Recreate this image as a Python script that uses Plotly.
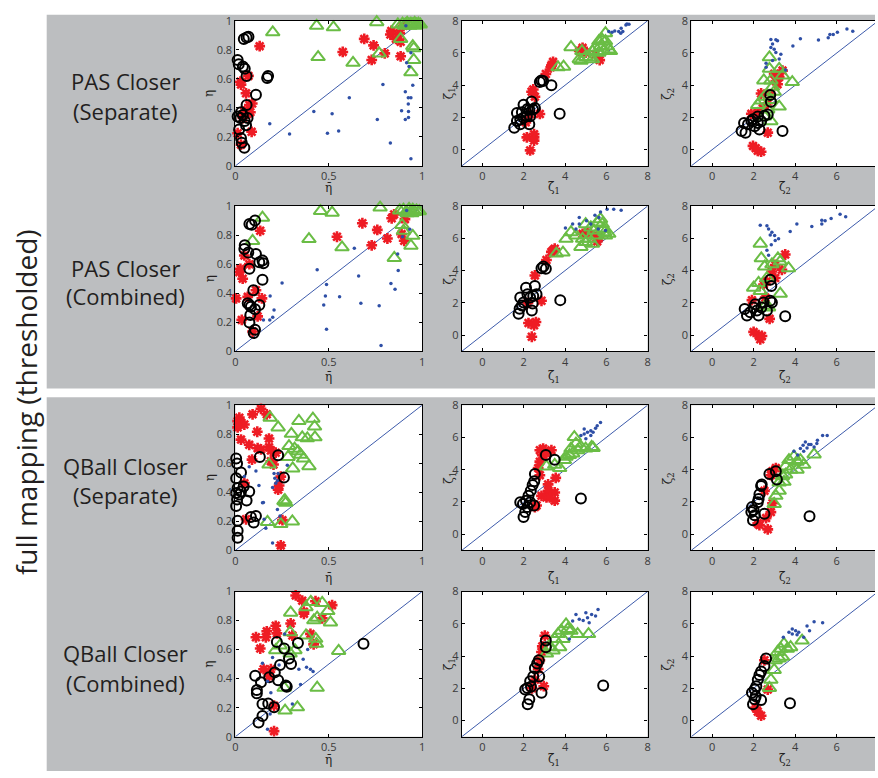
import plotly.graph_objects as go

FIG_W, FIG_H = 878, 778

# ---------------- axis definitions ----------------
ETA_RANGE = [0, 1]
ZETA_RANGE = [-1, 8]
ZETA_RANGE_EDGE = [-1, 7.84]          # right-hand column runs off the page edge
ETA_YTICKS = [0, 0.2, 0.4, 0.6, 0.8, 1]
ETA_YTICK_TEXT = ["0", "0.2", "0.4", "0.6", "0.8", "1"]
ETA_XTICKS = [0, 0.5, 1]
ETA_XTICK_TEXT = ["0", "0.5", "1"]
ZETA_TICKS = [0, 2, 4, 6, 8]

ROW_TITLES = [("PAS Closer", "(Separate)"), ("PAS Closer", "(Combined)"),
              ("QBall Closer", "(Separate)"), ("QBall Closer", "(Combined)")]
SIDE_TITLE = "full mapping (thresholded)"
X_TITLES = ["η\u0304", "ζ\u0304<sub>1</sub>", "ζ\u0304<sub>2</sub>"]
Y_TITLES = ["η", "ζ<sub>1</sub>", "ζ<sub>2</sub>"]

# ---------------- data: (x, y) pairs ----------------
# Row 1: PAS closer (separate)
PAS_SEP_ETA_BLUE = [(0.184, 0.29), (0.29, 0.22), (0.42, 0.375), (0.518, 0.36), (0.493, 0.225), (0.553, 0.24),
                    (0.61, 0.47), (0.79, 0.56), (0.76, 0.32), (0.83, 0.157), (0.89, 0.38), (0.91, 0.51),
                    (0.926, 0.47), (0.94, 0.47), (0.95, 0.555), (0.926, 0.427), (0.927, 0.375), (0.927, 0.333),
                    (0.91, 0.32), (0.94, 0.05), (0.94, 0.78), (0.917, 0.71), (0.93, 0.685), (0.913, 0.966)]
PAS_SEP_ETA_RED = [(0.13, 0.825), (0.03, 0.56), (0.057, 0.50), (0.075, 0.42), (0.09, 0.43), (0.08, 0.37),
                   (0.048, 0.375), (0.012, 0.225), (0.087, 0.235), (0.03, 0.146), (0.07, 0.62), (0.027, 0.58),
                   (0.04, 0.33), (0.065, 0.36), (0.835, 0.93), (0.83, 0.905), (0.88, 0.915), (0.885, 0.855),
                   (0.69, 0.875), (0.74, 0.83), (0.575, 0.785), (0.73, 0.73), (0.80, 0.775), (0.885, 0.755),
                   (0.90, 0.965), (0.86, 0.875)]
PAS_SEP_ETA_BLACK = [(0.07, 0.89), (0.045, 0.875), (0.06, 0.885), (0.012, 0.73), (0.018, 0.70), (0.04, 0.685),
                     (0.05, 0.67), (0.06, 0.62), (0.175, 0.62), (0.17, 0.605), (0.11, 0.49), (0.06, 0.42),
                     (0.012, 0.34), (0.027, 0.33), (0.04, 0.35), (0.05, 0.31), (0.065, 0.33), (0.02, 0.25),
                     (0.03, 0.19), (0.034, 0.16), (0.048, 0.125), (0.03, 0.37), (0.057, 0.28)]
PAS_SEP_ETA_GREEN = [(0.2, 0.92), (0.435, 0.965), (0.525, 0.955), (0.757, 0.99), (0.443, 0.75), (0.63, 0.71),
                     (0.77, 0.775), (0.885, 0.875), (0.95, 0.825), (0.955, 0.81), (0.955, 0.73), (0.94, 0.645),
                     (0.87, 0.975), (0.895, 0.98), (0.91, 0.975), (0.92, 0.985), (0.93, 0.975), (0.94, 0.98),
                     (0.95, 0.975), (0.96, 0.985), (0.97, 0.975), (0.98, 0.98), (0.99, 0.975), (0.905, 0.965),
                     (0.935, 0.965), (0.965, 0.965)]

PAS_SEP_Z1_BLUE = [(6.12, 7.33), (6.41, 7.37), (6.6, 7.33), (6.72, 7.53), (6.8, 7.33), (6.95, 7.74),
                   (7.0, 7.8), (7.1, 7.78), (6.7, 7.23), (6.28, 7.29)]
PAS_SEP_Z1_RED = [(2.31, -0.04), (2.15, 0.77), (2.5, 0.77), (2.5, 0.97), (2.5, 0.57), (2.78, 2.22),
                  (2.46, 3.74), (2.38, 3.6), (3.07, 4.7), (3.34, 5.21), (3.42, 5.45), (3.31, 5.11),
                  (4.69, 6.12), (4.85, 6.32), (5.0, 6.02), (5.48, 5.92), (5.68, 5.56), (2.54, 3.29),
                  (2.1, 1.7), (2.3, 2.2)]
PAS_SEP_Z1_BLACK = [(1.54, 1.37), (1.67, 1.78), (1.83, 1.58), (1.67, 2.28), (1.99, 2.79), (2.18, 2.53),
                    (2.27, 2.48), (2.38, 2.99), (2.31, 2.08), (2.27, 1.58), (2.54, 2.59), (2.15, 2.08),
                    (1.99, 1.98), (2.78, 4.2), (2.94, 4.26), (3.34, 4.0), (3.74, 2.24), (1.83, 1.88),
                    (1.91, 2.32), (2.45, 2.5), (2.85, 4.3)]
PAS_SEP_Z1_GREEN = [(4.29, 6.36), (4.82, 6.12), (3.66, 5.11), (3.93, 5.15), (4.77, 5.52), (5.17, 5.72),
                    (5.33, 5.62), (5.48, 6.32), (5.64, 6.73), (5.8, 6.83), (5.96, 7.23), (6.04, 6.42),
                    (6.12, 6.22), (5.88, 6.12), (6.2, 6.12), (5.64, 6.02), (5.0, 5.76), (4.69, 5.62),
                    (5.33, 6.12), (5.96, 6.73), (5.72, 6.42)]

PAS_SEP_Z2_BLUE = [(2.83, 6.84), (3.07, 6.82), (3.15, 6.76), (2.91, 6.56), (2.83, 6.34), (2.99, 6.23),
                   (3.07, 6.03), (3.31, 5.93), (3.23, 5.63), (2.6, 5.36), (2.91, 5.54), (3.54, 4.95),
                   (3.89, 6.44), (4.25, 6.88), (5.12, 6.8), (5.59, 6.94), (5.67, 7.15), (5.83, 7.15),
                   (6.03, 7.29), (6.49, 7.49), (6.77, 7.35), (2.6, 5.12)]
PAS_SEP_Z2_RED = [(1.97, 0.24), (2.2, -0.06), (2.36, -0.12), (2.1, 0.1), (2.68, 1.06), (1.89, 2.23),
                  (2.2, 2.31), (2.44, 2.58), (2.83, 3.41), (3.07, 4.26), (3.23, 4.51), (3.39, 4.91),
                  (2.99, 4.71), (3.15, 4.06), (2.68, 2.88), (2.36, 3.49)]
PAS_SEP_Z2_BLACK = [(1.42, 1.16), (1.61, 1.06), (1.54, 1.66), (1.73, 1.58), (1.89, 1.79), (2.05, 1.46),
                    (2.2, 1.66), (2.2, 2.07), (2.52, 2.11), (2.68, 2.19), (2.83, 2.98), (2.8, 3.39),
                    (3.39, 1.16), (2.28, 1.26), (1.97, 1.89), (2.36, 1.77)]
PAS_SEP_Z2_GREEN = [(2.76, 5.73), (2.76, 5.02), (3.23, 5.02), (3.39, 4.61), (2.49, 4.3), (2.83, 4.3),
                    (3.86, 4.2), (2.91, 3.9), (2.99, 3.59), (2.52, 3.29), (2.83, 3.09), (2.2, 2.78),
                    (2.36, 3.05), (3.23, 2.68), (2.68, 2.5), (2.83, 1.77), (2.52, 2.07)]

# Row 2: PAS closer (combined)
PAS_COMB_ETA_BLUE = [(0.15, 0.216), (0.184, 0.216), (0.2, 0.234), (0.207, 0.284), (0.186, 0.38), (0.25, 0.47),
                     (0.438, 0.561), (0.488, 0.46), (0.482, 0.38), (0.473, 0.318), (0.558, 0.375), (0.488, 0.152),
                     (0.637, 0.709), (0.66, 0.518), (0.672, 0.33), (0.77, 0.314), (0.78, 0.039), (0.833, 0.466),
                     (0.855, 0.427), (0.872, 0.557), (0.869, 0.67), (0.895, 0.789), (0.934, 0.84), (0.917, 0.97)]
PAS_COMB_ETA_RED = [(0.133, 0.83), (0.048, 0.66), (0.021, 0.545), (0.039, 0.5), (0.027, 0.568), (0.004, 0.364),
                    (0.066, 0.375), (0.11, 0.42), (0.142, 0.364), (0.119, 0.24), (0.034, 0.216), (0.092, 0.136),
                    (0.075, 0.6), (0.544, 0.789), (0.68, 0.882), (0.76, 0.836), (0.73, 0.73), (0.814, 0.777),
                    (0.837, 0.916), (0.85, 0.943), (0.908, 0.91), (0.904, 0.761), (0.89, 0.807)]
PAS_COMB_ETA_BLACK = [(0.075, 0.877), (0.087, 0.872), (0.105, 0.9), (0.05, 0.73), (0.048, 0.705), (0.069, 0.68),
                      (0.11, 0.67), (0.128, 0.614), (0.145, 0.625), (0.15, 0.607), (0.075, 0.568), (0.145, 0.493),
                      (0.096, 0.42), (0.066, 0.33), (0.075, 0.318), (0.083, 0.307), (0.128, 0.318), (0.08, 0.25),
                      (0.105, 0.29), (0.075, 0.198), (0.105, 0.148), (0.098, 0.125)]
PAS_COMB_ETA_GREEN = [(0.145, 0.92), (0.092, 0.76), (0.456, 0.966), (0.518, 0.955), (0.775, 0.99), (0.394, 0.773),
                      (0.571, 0.716), (0.851, 0.643), (0.892, 0.87), (0.9, 0.83), (0.95, 0.795), (0.94, 0.727),
                      (0.88, 0.97), (0.9, 0.975), (0.915, 0.96), (0.93, 0.98), (0.94, 0.965), (0.95, 0.975),
                      (0.96, 0.96), (0.97, 0.97), (0.985, 0.965), (0.92, 0.95), (0.945, 0.95)]

PAS_COMB_Z1_BLUE = [(4.02, 6.64), (4.37, 6.89), (4.69, 7.29), (5.04, 7.09), (5.25, 6.89), (5.45, 7.43),
                    (5.72, 7.64), (5.64, 7.29), (6.04, 7.8), (6.36, 7.8), (6.72, 7.74), (4.53, 6.58),
                    (4.69, 6.89), (5.61, 6.58), (5.96, 6.48)]
PAS_COMB_Z1_RED = [(2.39, -0.1), (2.23, 0.75), (2.59, 0.81), (2.5, 0.61), (2.86, 2.13), (2.54, 3.7),
                   (3.1, 4.66), (3.42, 5.26), (3.5, 5.36), (3.34, 5.16), (4.85, 6.28), (5.09, 6.38),
                   (5.41, 6.17), (5.56, 5.81), (5.64, 6.07), (2.2, 2.0)]
PAS_COMB_Z1_BLACK = [(1.75, 1.32), (1.8, 1.63), (1.91, 1.83), (1.83, 2.33), (2.11, 2.94), (2.18, 2.53),
                     (2.31, 2.33), (2.39, 1.52), (2.43, 1.96), (2.54, 3.04), (2.62, 2.53), (2.46, 2.43),
                     (2.86, 4.15), (3.07, 4.11), (3.77, 2.17), (1.99, 2.02), (2.95, 4.25)]
PAS_COMB_Z1_GREEN = [(3.58, 5.06), (3.9, 5.12), (4.05, 5.97), (4.29, 6.38), (4.53, 6.17), (4.77, 5.47),
                     (5.0, 5.77), (5.17, 5.97), (5.33, 5.67), (5.48, 6.17), (5.56, 6.98), (5.72, 7.19),
                     (5.8, 6.89), (5.93, 6.38), (5.96, 6.17), (5.88, 6.58), (6.12, 6.28), (5.41, 6.48),
                     (5.0, 6.88), (5.25, 6.68), (4.85, 5.97)]

PAS_COMB_Z2_BLUE = [(2.32, 6.82), (2.64, 6.78), (2.72, 6.58), (2.88, 6.38), (2.8, 6.21), (3.01, 6.17),
                    (3.04, 5.87), (3.2, 5.97), (2.64, 5.26), (2.72, 4.96), (2.85, 5.6), (3.76, 6.42),
                    (4.08, 6.89), (4.8, 6.74), (5.28, 6.89), (5.44, 7.09), (5.73, 7.23), (6.16, 7.49),
                    (6.43, 7.34), (5.28, 7.13)]
PAS_COMB_Z2_RED = [(2.0, 0.2), (2.24, 0.0), (2.32, -0.26), (2.4, -0.05), (2.77, 1.01), (1.92, 2.17),
                   (2.56, 2.33), (2.88, 3.95), (3.04, 4.35), (3.52, 5.0), (3.36, 4.05), (3.04, 3.54),
                   (2.64, 3.34), (2.48, 3.14)]
PAS_COMB_Z2_BLACK = [(1.57, 1.62), (1.68, 1.21), (1.84, 1.42), (2.0, 1.72), (2.16, 1.52), (2.24, 1.21),
                     (2.37, 1.72), (2.48, 2.02), (2.64, 1.52), (2.8, 2.13), (2.88, 2.02), (2.8, 3.44),
                     (2.85, 3.04), (3.52, 1.17), (2.08, 1.92)]
PAS_COMB_Z2_GREEN = [(2.32, 5.67), (2.37, 4.76), (2.53, 4.25), (3.17, 4.76), (3.28, 4.56), (3.68, 4.15),
                     (2.88, 4.39), (2.64, 3.54), (2.24, 3.24), (2.0, 2.94), (2.32, 2.73), (3.28, 2.57),
                     (2.56, 1.82), (2.72, 1.72)]

# Row 3: QBall closer (separate)
QB_SEP_ETA_BLUE = [(0.074, 0.576), (0.11, 0.546), (0.048, 0.508), (0.126, 0.447), (0.145, 0.327), (0.207, 0.53),
                   (0.211, 0.497), (0.216, 0.463), (0.199, 0.433), (0.225, 0.479), (0.229, 0.53), (0.278, 0.587),
                   (0.154, 0.214), (0.163, 0.153), (0.199, 0.05), (0.239, 0.237), (0.225, 0.282), (0.15, 0.33)]
QB_SEP_ETA_RED = [(0.021, 0.914), (0.012, 0.89), (0.03, 0.878), (0.048, 0.867), (0.012, 0.847), (0.092, 0.937),
                  (0.137, 0.975), (0.168, 0.937), (0.117, 0.817), (0.03, 0.763), (0.18, 0.77), (0.074, 0.727),
                  (0.119, 0.704), (0.137, 0.695), (0.18, 0.711), (0.19, 0.688), (0.216, 0.673), (0.089, 0.625),
                  (0.204, 0.591), (0.19, 0.614), (0.243, 0.508), (0.234, 0.447), (0.229, 0.418), (0.048, 0.463),
                  (0.057, 0.214), (0.252, 0.208), (0.243, 0.034)]
QB_SEP_ETA_BLACK = [(0.004, 0.632), (0.009, 0.598), (0.03, 0.537), (0.004, 0.497), (0.012, 0.429), (0.004, 0.395),
                    (0.021, 0.384), (0.009, 0.35), (0.004, 0.305), (0.03, 0.406), (0.044, 0.44), (0.074, 0.406),
                    (0.06, 0.343), (0.012, 0.203), (0.012, 0.135), (0.012, 0.086), (0.083, 0.23), (0.11, 0.237),
                    (0.098, 0.192), (0.131, 0.643), (0.229, 0.655), (0.26, 0.501)]
QB_SEP_ETA_GREEN = [(0.186, 0.914), (0.229, 0.847), (0.34, 0.891), (0.415, 0.907), (0.424, 0.853), (0.3, 0.803),
                    (0.358, 0.779), (0.385, 0.772), (0.426, 0.779), (0.287, 0.718), (0.317, 0.7), (0.335, 0.682),
                    (0.349, 0.659), (0.282, 0.643), (0.365, 0.632), (0.307, 0.564), (0.394, 0.58), (0.18, 0.591),
                    (0.26, 0.339), (0.27, 0.327), (0.265, 0.345), (0.172, 0.196), (0.243, 0.181), (0.305, 0.199)]

QB_SEP_Z1_BLUE = [(4.77, 6.12), (4.93, 6.53), (4.93, 6.22), (5.09, 6.32), (5.25, 6.42), (5.36, 6.32),
                  (5.48, 6.57), (5.72, 6.93), (5.56, 6.73), (5.25, 6.12), (5.01, 5.92)]
QB_SEP_Z1_RED = [(2.78, 5.21), (2.94, 5.31), (3.34, 5.21), (2.78, 4.5), (2.7, 4.1), (2.78, 3.66),
                 (3.55, 3.49), (3.18, 3.09), (3.18, 2.69), (2.86, 2.38), (3.1, 2.28), (3.5, 2.59),
                 (3.5, 2.08), (3.26, 2.28), (2.62, 1.78), (2.54, 1.68), (2.9, 4.9), (3.1, 5.0)]
QB_SEP_Z1_BLACK = [(1.99, 1.07), (2.07, 1.37), (1.96, 1.88), (1.83, 1.98), (2.11, 2.08), (2.23, 2.38),
                   (2.34, 2.69), (2.43, 3.05), (2.51, 3.29), (2.54, 3.74), (2.5, 1.78), (2.31, 1.98),
                   (3.07, 4.91), (3.5, 4.61), (4.77, 2.22), (2.18, 1.68)]
QB_SEP_Z1_GREEN = [(3.1, 4.2), (3.5, 4.3), (3.74, 4.1), (3.97, 4.6), (4.21, 4.91), (4.45, 6.02),
                   (4.53, 5.62), (4.61, 5.21), (4.77, 5.41), (5.0, 5.31), (5.29, 5.41), (5.36, 5.35),
                   (4.29, 5.31), (4.05, 4.81), (4.37, 5.01)]

QB_SEP_Z2_BLUE = [(3.94, 5.15), (4.25, 5.31), (4.38, 5.52), (4.49, 5.72), (4.65, 5.56), (4.76, 5.56),
                  (4.91, 5.41), (5.04, 5.62), (5.07, 5.82), (5.32, 6.12), (5.54, 6.12), (4.41, 5.15),
                  (4.57, 5.35), (4.12, 4.91)]
QB_SEP_Z2_RED = [(2.68, 0.3), (2.28, 0.57), (2.83, 1.37), (2.91, 1.92), (3.07, 4.1), (2.83, 3.66),
                 (2.52, 2.69), (2.2, 0.67), (2.6, 1.0), (2.9, 3.9)]
QB_SEP_Z2_BLACK = [(1.97, 0.87), (2.05, 1.17), (1.92, 1.68), (1.89, 1.37), (2.2, 1.98), (2.24, 2.18),
                   (2.28, 2.48), (2.36, 2.99), (2.39, 3.09), (2.52, 1.27), (2.76, 3.74), (3.07, 3.9),
                   (3.12, 3.39), (4.69, 1.11), (2.0, 1.5)]
QB_SEP_Z2_GREEN = [(2.99, 1.88), (3.07, 2.38), (3.23, 2.69), (3.46, 3.25), (3.39, 3.6), (3.54, 4.2),
                   (3.7, 4.6), (3.94, 4.81), (4.09, 4.5), (4.25, 4.6), (4.09, 4.0), (4.41, 4.3),
                   (4.91, 4.95), (3.78, 4.0), (3.54, 3.7), (3.23, 3.2)]

# Row 4: QBall closer (combined)
QB_COMB_ETA_BLUE = [(0.145, 0.506), (0.199, 0.546), (0.234, 0.494), (0.172, 0.382), (0.19, 0.303), (0.305, 0.225),
                    (0.34, 0.465), (0.363, 0.533), (0.387, 0.6), (0.381, 0.479), (0.402, 0.465), (0.416, 0.449),
                    (0.349, 0.36), (0.172, 0.052), (0.186, 0.157), (0.264, 0.708)]
QB_COMB_ETA_RED = [(0.323, 0.973), (0.358, 0.937), (0.429, 0.933), (0.518, 0.906), (0.367, 0.861), (0.367, 0.847),
                   (0.296, 0.78), (0.465, 0.816), (0.216, 0.764), (0.222, 0.712), (0.168, 0.726), (0.163, 0.685),
                   (0.11, 0.685), (0.133, 0.607), (0.305, 0.697), (0.402, 0.708), (0.419, 0.636), (0.151, 0.465),
                   (0.19, 0.465), (0.181, 0.416), (0.207, 0.213), (0.207, 0.038)]
QB_COMB_ETA_BLACK = [(0.222, 0.652), (0.335, 0.645), (0.261, 0.607), (0.287, 0.539), (0.298, 0.501), (0.239, 0.494),
                     (0.211, 0.443), (0.229, 0.389), (0.181, 0.409), (0.106, 0.42), (0.137, 0.375), (0.115, 0.321),
                     (0.115, 0.299), (0.27, 0.353), (0.275, 0.344), (0.145, 0.225), (0.176, 0.229), (0.207, 0.202),
                     (0.145, 0.142), (0.124, 0.097), (0.686, 0.64)]
QB_COMB_ETA_GREEN = [(0.296, 0.854), (0.378, 0.892), (0.404, 0.928), (0.465, 0.921), (0.495, 0.865), (0.509, 0.787),
                     (0.42, 0.802), (0.438, 0.82), (0.293, 0.719), (0.378, 0.697), (0.43, 0.674), (0.434, 0.64),
                     (0.239, 0.629), (0.216, 0.596), (0.293, 0.573), (0.319, 0.596), (0.553, 0.591), (0.261, 0.337),
                     (0.438, 0.337), (0.266, 0.18), (0.332, 0.202)]

QB_COMB_Z1_BLUE = [(4.21, 5.06), (4.37, 6.17), (4.53, 6.58), (4.69, 6.28), (4.88, 6.21), (5.09, 6.38),
                   (5.17, 6.07), (5.29, 6.58), (5.48, 6.48), (5.6, 6.88), (5.01, 6.68)]
QB_COMB_Z1_RED = [(3.02, 5.26), (2.86, 4.25), (2.78, 3.74), (2.97, 2.13), (2.54, 2.53), (2.9, 4.6),
                  (2.7, 3.2), (2.4, 2.0)]
QB_COMB_Z1_BLACK = [(2.19, 1.01), (2.27, 1.32), (2.07, 1.92), (2.18, 2.02), (2.31, 2.43), (2.46, 2.73),
                    (2.54, 3.24), (2.65, 3.54), (2.73, 3.74), (2.86, 1.72), (2.75, 2.73), (3.07, 4.96),
                    (3.07, 4.55), (5.85, 2.17), (2.35, 2.1)]
QB_COMB_Z1_GREEN = [(3.1, 4.15), (3.26, 4.55), (3.5, 5.06), (3.66, 5.36), (3.82, 5.57), (4.05, 5.97),
                    (4.13, 5.67), (4.29, 5.57), (4.61, 5.36), (5.14, 5.36), (3.74, 4.55), (3.42, 4.35),
                    (3.9, 5.06)]

QB_COMB_Z2_BLUE = [(3.43, 5.16), (3.7, 5.47), (3.86, 5.67), (3.86, 5.36), (4.02, 5.57), (4.17, 5.47),
                   (4.09, 5.32), (4.57, 5.87), (4.69, 5.57), (4.91, 6.13), (5.32, 6.07), (4.41, 5.16)]
QB_COMB_Z2_RED = [(2.36, 0.3), (2.2, 0.55), (2.68, 1.92), (2.52, 3.74), (2.1, 0.8)]
QB_COMB_Z2_BLACK = [(1.97, 1.01), (2.05, 1.32), (1.92, 1.72), (2.05, 1.92), (2.13, 2.13), (2.2, 2.53),
                    (2.28, 2.83), (2.36, 3.04), (2.36, 1.28), (2.52, 3.38), (2.6, 3.85), (3.75, 1.07),
                    (2.1, 1.5)]
QB_COMB_Z2_GREEN = [(2.83, 2.53), (2.76, 2.02), (2.99, 3.14), (3.04, 3.74), (3.15, 4.25), (3.31, 4.45),
                    (3.46, 4.76), (3.62, 4.45), (3.78, 4.55), (4.33, 4.96), (3.39, 3.95), (3.23, 3.85)]

PANELS = [
    [(PAS_SEP_ETA_BLUE, PAS_SEP_ETA_RED, PAS_SEP_ETA_BLACK, PAS_SEP_ETA_GREEN),
     (PAS_SEP_Z1_BLUE, PAS_SEP_Z1_RED, PAS_SEP_Z1_BLACK, PAS_SEP_Z1_GREEN),
     (PAS_SEP_Z2_BLUE, PAS_SEP_Z2_RED, PAS_SEP_Z2_BLACK, PAS_SEP_Z2_GREEN)],
    [(PAS_COMB_ETA_BLUE, PAS_COMB_ETA_RED, PAS_COMB_ETA_BLACK, PAS_COMB_ETA_GREEN),
     (PAS_COMB_Z1_BLUE, PAS_COMB_Z1_RED, PAS_COMB_Z1_BLACK, PAS_COMB_Z1_GREEN),
     (PAS_COMB_Z2_BLUE, PAS_COMB_Z2_RED, PAS_COMB_Z2_BLACK, PAS_COMB_Z2_GREEN)],
    [(QB_SEP_ETA_BLUE, QB_SEP_ETA_RED, QB_SEP_ETA_BLACK, QB_SEP_ETA_GREEN),
     (QB_SEP_Z1_BLUE, QB_SEP_Z1_RED, QB_SEP_Z1_BLACK, QB_SEP_Z1_GREEN),
     (QB_SEP_Z2_BLUE, QB_SEP_Z2_RED, QB_SEP_Z2_BLACK, QB_SEP_Z2_GREEN)],
    [(QB_COMB_ETA_BLUE, QB_COMB_ETA_RED, QB_COMB_ETA_BLACK, QB_COMB_ETA_GREEN),
     (QB_COMB_Z1_BLUE, QB_COMB_Z1_RED, QB_COMB_Z1_BLACK, QB_COMB_Z1_GREEN),
     (QB_COMB_Z2_BLUE, QB_COMB_Z2_RED, QB_COMB_Z2_BLACK, QB_COMB_Z2_GREEN)],
]

# ---------------- page geometry (pixels) ----------------
COL_PX = [(234, 422), (462, 649), (693, 878)]
ROW_PX = [(13, 161), (202, 350), (405, 553), (595, 743)]
GRAY_BLOCKS = [(44, 7, 878, 388), (44, 397, 878, 778)]
ROW_LABEL_Y = [(74, 105), (265, 294), (467, 497), (658, 688)]
XTITLE_Y = [184, 376, 581, 767]
XTITLE_X = [328, 555, 787]
YTITLE_X = [208, 450, 670]

GRAY = "#bcbec0"
TEXT = "#231f20"
TICK_TEXT = "#3a3a3a"
DOT_BLUE = "#2e4fa6"
RED = "#ee1c24"
GREEN = "#6abd45"
DIAG_BLUE = "#3d5bab"


def px_x(v):
    return v / FIG_W


def px_y(v):
    return 1 - v / FIG_H


fig = go.Figure()
layout = dict(
    width=FIG_W, height=FIG_H, margin=dict(l=0, r=0, t=0, b=0),
    paper_bgcolor="white", plot_bgcolor="white", showlegend=False,
    font=dict(family="Open Sans", color=TEXT),
)
annotations = []
shapes = []

# gray panels behind each block of rows
for x0, y0, x1, y1 in GRAY_BLOCKS:
    shapes.append(dict(type="rect", xref="paper", yref="paper", layer="below",
                       x0=px_x(x0), x1=px_x(x1), y0=px_y(y1), y1=px_y(y0),
                       fillcolor=GRAY, line=dict(width=0)))

for r in range(4):
    for c in range(3):
        k = r * 3 + c + 1
        xa = "x" if k == 1 else f"x{k}"
        ya = "y" if k == 1 else f"y{k}"
        blue, red, black, green = PANELS[r][c]

        # white axes background on top of the gray block
        shapes.append(dict(type="rect", xref=f"{xa} domain", yref=f"{ya} domain", layer="below",
                           x0=0, x1=1, y0=0, y1=1, fillcolor="white", line=dict(width=0)))

        rng = ETA_RANGE if c == 0 else ZETA_RANGE
        # identity reference line
        fig.add_trace(go.Scatter(x=rng, y=rng, mode="lines", xaxis=xa, yaxis=ya,
                                 line=dict(color=DIAG_BLUE, width=1), hoverinfo="skip"))
        groups = [
            (red, dict(symbol="asterisk-open", size=9, color=RED, line=dict(color=RED, width=2.6))),
            (green, dict(symbol="triangle-up-open", size=12, color=GREEN, line=dict(color=GREEN, width=2))),
            (black, dict(symbol="circle-open", size=10, color="black", line=dict(color="black", width=2))),
            (blue, dict(symbol="circle", size=3.5, color=DOT_BLUE, line=dict(width=0))),
        ]
        for pts, mk in groups:
            fig.add_trace(go.Scatter(x=[p[0] for p in pts], y=[p[1] for p in pts], mode="markers",
                                     xaxis=xa, yaxis=ya, marker=mk, cliponaxis=False))

        xdom = [px_x(COL_PX[c][0]), px_x(COL_PX[c][1])]
        ydom = [px_y(ROW_PX[r][1]), px_y(ROW_PX[r][0])]
        common = dict(showline=True, linecolor="black", linewidth=1.2, ticks="inside", ticklen=3,
                      tickcolor="black", tickwidth=1, showgrid=False, zeroline=False,
                      tickfont=dict(family="Open Sans", size=11, color=TICK_TEXT))
        if c == 0:
            xax = dict(range=ETA_RANGE, tickvals=ETA_XTICKS, ticktext=ETA_XTICK_TEXT)
            yax = dict(range=ETA_RANGE, tickvals=ETA_YTICKS, ticktext=ETA_YTICK_TEXT)
        else:
            xax = dict(range=ZETA_RANGE if c == 1 else ZETA_RANGE_EDGE, tickvals=ZETA_TICKS)
            yax = dict(range=ZETA_RANGE, tickvals=ZETA_TICKS)
        layout["xaxis" if k == 1 else f"xaxis{k}"] = dict(
            domain=xdom, anchor=ya, mirror="ticks", **xax, **common)
        layout["yaxis" if k == 1 else f"yaxis{k}"] = dict(
            domain=ydom, anchor=xa, mirror=("ticks" if c < 2 else False), **yax, **common)

        # axis titles
        annotations.append(dict(text=X_TITLES[c], xref="paper", yref="paper", showarrow=False,
                                x=px_x(XTITLE_X[c]), y=px_y(XTITLE_Y[r]), xanchor="center", yanchor="middle",
                                font=dict(family="DejaVu Serif", size=12, color=TEXT)))
        annotations.append(dict(text=Y_TITLES[c], xref="paper", yref="paper", showarrow=False, textangle=-90,
                                x=px_x(YTITLE_X[c]), y=px_y((ROW_PX[r][0] + ROW_PX[r][1]) / 2),
                                xanchor="center", yanchor="middle",
                                font=dict(family="DejaVu Serif", size=12, color=TEXT)))

    # row labels
    for line, yy in zip(ROW_TITLES[r], ROW_LABEL_Y[r]):
        annotations.append(dict(text=line, xref="paper", yref="paper", showarrow=False,
                                x=px_x(123), y=px_y(yy), xanchor="center", yanchor="middle",
                                font=dict(family="Open Sans", size=22, color=TEXT)))

annotations.append(dict(text=SIDE_TITLE, xref="paper", yref="paper", showarrow=False, textangle=-90,
                        x=px_x(23), y=px_y(402), xanchor="center", yanchor="middle",
                        font=dict(family="Open Sans", size=28, color=TEXT)))

layout["annotations"] = annotations
layout["shapes"] = shapes
fig.update_layout(**layout)
# let the figure sit flush against the page corner
fig.write_html("out.html", post_script="document.body.style.margin='0';")
